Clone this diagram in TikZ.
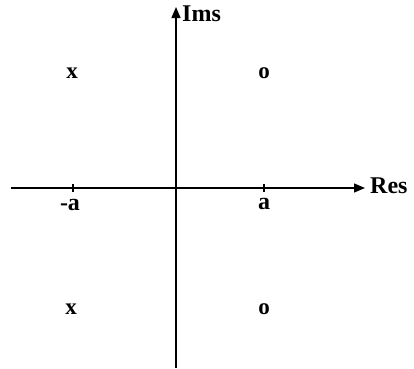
\documentclass[tikz,border=0pt]{standalone}
\usepackage{fontspec}
\setmainfont{Liberation Serif}
\usetikzlibrary{arrows.meta, positioning}

\begin{document}
\begin{tikzpicture}[
    x=1pt, y=-1pt,
    axis/.style={line width=1.4pt, -{Triangle[length=11pt, width=9pt]}},
    tick/.style={line width=1.1pt},
    lbl/.style={font=\fontsize{24}{24}\selectfont\bfseries, inner sep=1pt},
    pzmark/.style={font=\fontsize{23}{23}\selectfont\bfseries, inner sep=0pt}
]
\useasboundingbox (0,0) rectangle (414,368);

% Axes
\coordinate (O) at (176,188);
\coordinate (west) at (11,188);
\coordinate (east) at (365,188);
\coordinate (south) at (176,368);
\coordinate (north) at (176,7);
\draw[axis] (west) -- (east);
\draw[axis] (south) -- (north);

\node[lbl, anchor=west] (res) at (369,186) {Res};
\node[lbl, anchor=west] (ims) at (181,14) {Ims};

% Ticks on real axis
\coordinate (mina) at (73,188);
\coordinate (plusa) at (264,188);
\draw[tick] (mina) ++(0,-4) -- ++(0,8);
\draw[tick] (plusa) ++(0,-4) -- ++(0,8);

\node[lbl] (minalbl) at (70,205) {-a};
\node[lbl] (plusalbl) at (264,204) {a};

% Poles and zeros
\node[pzmark] (p1) at (72,73) {x};
\node[pzmark] (z1) at (264,73) {o};
\node[pzmark] (p2) at (71,309) {x};
\node[pzmark] (z2) at (264,309) {o};

\end{tikzpicture}
\end{document}
